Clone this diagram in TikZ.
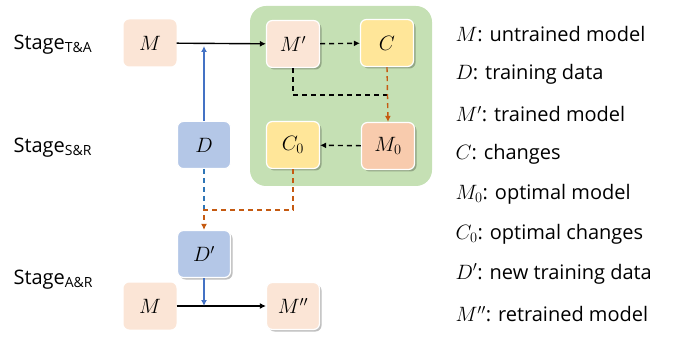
\documentclass[tikz,border=0pt]{standalone}
\usepackage{fontspec}
\setmainfont{Open Sans}
\usetikzlibrary{shadows,arrows.meta}
\definecolor{peach}{HTML}{FBE5D6}
\definecolor{peachdark}{HTML}{F8CBAD}
\definecolor{yel}{HTML}{FFE699}
\definecolor{lblue}{HTML}{B4C7E7}
\definecolor{gbg}{HTML}{C5E0B4}
\definecolor{orng}{HTML}{C55A11}
\definecolor{bline}{HTML}{4472C4}
\definecolor{bdash}{HTML}{2E75B6}
\begin{document}
\begin{tikzpicture}[x=1pt,y=-1pt,
  box/.style={rounded corners=6pt, minimum width=53pt, minimum height=47pt, inner sep=0pt, font=\fontsize{22}{26}\selectfont},
  sh/.style={draw=white, line width=1.2pt, drop shadow={shadow xshift=2pt,shadow yshift=-2pt,opacity=0.25,fill=black}},
  conn/.style={line width=1.4pt, -{Latex[length=6pt,width=6pt]}},
  dsh/.style={dash pattern=on 5pt off 4pt},
  stage/.style={anchor=west, font=\fontsize{20}{24}\selectfont},
  leg/.style={anchor=west, font=\fontsize{20}{24}\selectfont}]
\useasboundingbox (0,0) rectangle (699,339);
\fill[gbg, rounded corners=16pt] (250,6) rectangle (432,186);
\node[box, fill=peach] (M) at (150,43) {$M$};
\node[box, fill=peach, sh] (Mp) at (293,44) {$M'$};
\node[box, fill=yel, sh] (C) at (387,43) {$C$};
\node[box, fill=lblue, draw=white, line width=1pt] (D) at (204,145) {$D$};
\node[box, fill=yel, sh] (C0) at (293,145) {$C_0$};
\node[box, fill=peachdark, sh] (M0) at (388,146) {$M_0$};
\node[box, fill=lblue, sh] (Dp) at (204,254) {$D'$};
\node[box, fill=peach] (Mb) at (150,306) {$M$};
\node[box, fill=peach, sh] (Mpp) at (293,306) {$M''$};
\node[stage] (s1) at (10,45) {Stage\textsubscript{T\&A}};
\node[stage] (s2) at (10,148) {Stage\textsubscript{S\&R}};
\node[stage] (s3) at (10,280) {Stage\textsubscript{A\&R}};
\coordinate (j1) at (204,46);
\coordinate (j2) at (293,95);
\coordinate (j3) at (387,95);
\coordinate (j4) at (204,210);
\coordinate (j5) at (293,210);
\coordinate (j6) at (204,306);
\draw[conn, black] (M) -- (Mp);
\draw[conn, bline] (D) -- (j1);
\draw[conn, black, dsh] (Mp) -- (C);
\draw[line width=1.4pt, black, dsh] (Mp.south) -- (j2) -- (j3);
\draw[conn, orng, dsh] (C.south) -- (M0.north);
\draw[conn, black, dsh] (M0) -- (C0);
\draw[line width=1.4pt, bdash, dsh] (D.south) -- (j4);
\draw[conn, orng, dsh] (C0.south) -- (j5) -- (j4) -- (Dp.north);
\draw[conn, black] (Mb) -- (Mpp);
\draw[conn, bline] (Dp.south) -- (j6);
\node[leg] (l1) at (452,34) {$M$: untrained model};
\node[leg] (l2) at (452,74) {$D$: training data};
\node[leg] (l3) at (452,114) {$M'$: trained model};
\node[leg] (l4) at (452,154) {$C$: changes};
\node[leg] (l5) at (452,194) {$M_0$: optimal model};
\node[leg] (l6) at (452,234) {$C_0$: optimal changes};
\node[leg] (l7) at (452,274) {$D'$: new training data};
\node[leg] (l8) at (452,314) {$M''$: retrained model};
\end{tikzpicture}
\end{document}
